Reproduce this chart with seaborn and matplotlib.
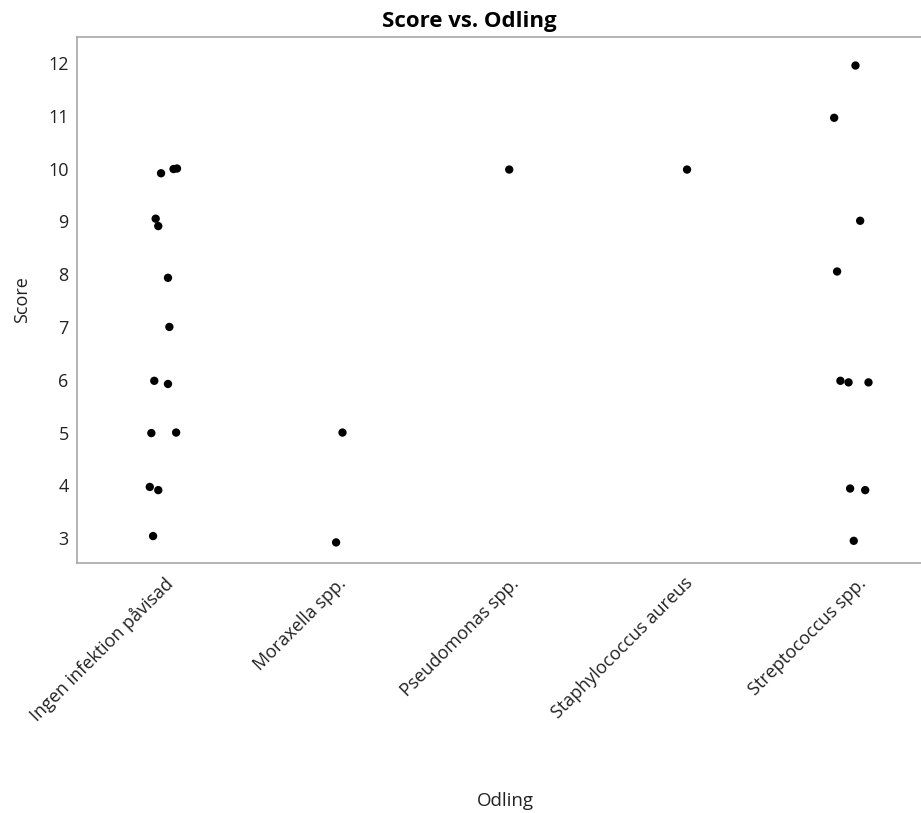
import pandas as pd
import matplotlib.pyplot as plt
import seaborn as sns

# === Data (category, score, horizontal jitter)
categories = [
    "Ingen infektion påvisad",
    "Moraxella spp.",
    "Pseudomonas spp.",
    "Staphylococcus aureus",
    "Streptococcus spp.",
]
odling = (
    ["Ingen infektion påvisad"] * 14
    + ["Moraxella spp."] * 2
    + ["Pseudomonas spp."]
    + ["Staphylococcus aureus"]
    + ["Streptococcus spp."] * 10
)
score = [
    9.91, 9.99, 10.0, 9.05, 8.91, 7.93, 7.0, 5.98, 5.92, 4.99, 5.0, 3.97, 3.91, 3.04,
    5.0, 2.92,
    9.98,
    9.98,
    11.95, 10.96, 9.01, 8.05, 5.98, 5.95, 5.95, 3.94, 3.91, 2.95,
]
jitter = [
    -0.015, 0.057, 0.077, -0.046, -0.031, 0.025, 0.033, -0.054, 0.025, -0.071, 0.072, -0.080, -0.031, -0.061,
    0.032, -0.005,
    -0.006,
    0.020,
    -0.008, -0.131, 0.019, -0.114, -0.095, -0.048, 0.067, -0.039, 0.048, -0.018,
]

df = pd.DataFrame({"Odling": odling, "Score": score, "jitter": jitter})
df["x"] = df["Odling"].map({c: i for i, c in enumerate(categories)}) + df["jitter"]

# === Stil
sns.set_theme(style="white")
plt.rcParams["font.family"] = ["Open Sans", "DejaVu Sans"]

fig = plt.figure(figsize=(9.21, 8.13), dpi=100)
ax = fig.add_axes([77 / 921, 1 - 563 / 813, 1 - 77 / 921, (563 - 37) / 813])

sns.scatterplot(data=df, x="x", y="Score", color="black", s=36, edgecolor="none", ax=ax)

ax.set_xlim(-0.5, 4.37)
ax.set_ylim(2.53, 12.49)
ax.set_yticks(range(3, 13))
ax.set_xticks(range(len(categories)))
ax.set_xticklabels(categories, rotation=45, ha="right", rotation_mode="anchor",
                   fontsize=13, color="#222222")
ax.tick_params(axis="y", labelsize=13, labelcolor="#222222", length=0, pad=6)
ax.tick_params(axis="x", length=0, pad=8)

for side in ["left", "bottom", "top"]:
    ax.spines[side].set_color("#a8a8a8")
    ax.spines[side].set_linewidth(1.2)
ax.spines["right"].set_visible(False)

ax.set_xlabel("")
ax.set_ylabel("Score", fontsize=13, color="#222222", labelpad=12)
fig.text(505 / 921, 1 - 801 / 813, "Odling", ha="center", va="center", fontsize=13.5, color="#222222")
fig.text(469 / 921, 1 - 22 / 813, "Score vs. Odling", ha="center", va="center",
         fontsize=16, fontweight="bold", color="black")

plt.savefig("out.png", dpi=100)
